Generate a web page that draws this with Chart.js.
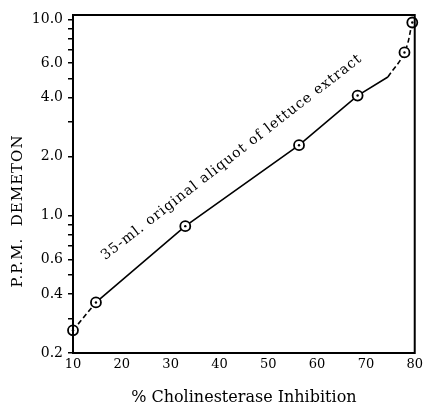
<!DOCTYPE html>
<html>
<head>
<meta charset="utf-8">
<script src="https://cdn.jsdelivr.net/npm/chart.js@4/dist/chart.umd.min.js"></script>
<style>
  html, body { margin: 0; padding: 0; background: #fff; }
  #wrap { width: 427px; height: 408px; }
</style>
</head>
<body>
<div id="wrap"><canvas id="chart" width="427" height="408"></canvas></div>
<script>
// measured points: % inhibition vs p.p.m. demeton
const inhibition = [10, 14.7, 33, 56.3, 68.3, 77.9, 79.5];
const ppm = [0.261, 0.362, 0.886, 2.29, 4.1, 6.8, 9.66];

// drawn curve, split into its dashed and solid parts
const lowDashX = [10, 14.7];
const lowDashY = [0.261, 0.362];
const solidX = [14.7, 33, 56.3, 68.3, 74.5];
const solidY = [0.362, 0.886, 2.29, 4.1, 5.1];
const highDashX = [74.5, 77.9, 79.5];
const highDashY = [5.1, 6.8, 9.66];

// axis ticks
const xTicks = [10, 20, 30, 40, 50, 60, 70, 80];
const yTicks = [0.2, 0.3, 0.4, 0.5, 0.6, 0.7, 0.8, 0.9, 1, 2, 3, 4, 5, 6, 7, 8, 9, 10];
const yLabels = { 0.2: '0.2', 0.4: '0.4', 0.6: '0.6', 1: '1.0', 2: '2.0', 4: '4.0', 6: '6.0', 10: '10.0' };

const note = '35-ml. original aliquot of lettuce extract';
const noteStart = { x: 16.6, y: 0.594 };
const noteEnd = { x: 69.8, y: 6.35 };

const SERIF = '"DejaVu Serif", "Liberation Serif", serif';

function pairs(xs, ys) {
  return xs.map((x, i) => ({ x: x, y: ys[i] }));
}

/*
*   Frame round the plot, the rotated curve label and the y axis title
*/
const extras = {
  id: 'extras',
  afterDraw(chart) {
    const ctx = chart.ctx;
    const a = chart.chartArea;
    const xs = chart.scales.x;
    const ys = chart.scales.y;

    ctx.save();
    ctx.strokeStyle = '#000';
    ctx.lineWidth = 2;
    ctx.strokeRect(a.left, a.top, a.right - a.left, a.bottom - a.top);

    // label along the line
    const x0 = xs.getPixelForValue(noteStart.x), y0 = ys.getPixelForValue(noteStart.y);
    const x1 = xs.getPixelForValue(noteEnd.x), y1 = ys.getPixelForValue(noteEnd.y);
    ctx.translate(x0, y0);
    ctx.rotate(Math.atan2(y1 - y0, x1 - x0));
    ctx.fillStyle = '#000';
    ctx.font = '14px ' + SERIF;
    ctx.letterSpacing = '1px';
    ctx.textBaseline = 'alphabetic';
    ctx.textAlign = 'left';
    ctx.fillText(note, 0, 0);
    ctx.restore();

    // y axis title
    ctx.save();
    ctx.translate(18, 211);
    ctx.rotate(-Math.PI / 2);
    ctx.fillStyle = '#000';
    ctx.font = '15px ' + SERIF;
    ctx.letterSpacing = '1px';
    ctx.textAlign = 'center';
    ctx.textBaseline = 'middle';
    ctx.fillText('P.P.M.  DEMETON', 0, 0);
    ctx.restore();
  }
};

const lineBase = {
  borderColor: '#000',
  borderWidth: 1.6,
  pointRadius: 0,
  fill: false,
  order: 2
};

new Chart(document.getElementById('chart'), {
  type: 'scatter',
  data: {
    datasets: [
      Object.assign({}, lineBase, { data: pairs(lowDashX, lowDashY), showLine: true, borderDash: [5, 3] }),
      Object.assign({}, lineBase, { data: pairs(solidX, solidY), showLine: true }),
      Object.assign({}, lineBase, { data: pairs(highDashX, highDashY), showLine: true, borderDash: [5, 3], tension: 0.4 }),
      {
        data: pairs(inhibition, ppm),
        pointRadius: 5,
        pointBorderWidth: 1.8,
        pointBorderColor: '#000',
        pointBackgroundColor: '#fff',
        showLine: false,
        order: 1
      },
      {
        data: pairs(inhibition, ppm),
        pointRadius: 1.2,
        pointBorderWidth: 0,
        pointBackgroundColor: '#000',
        showLine: false,
        order: 0
      }
    ]
  },
  options: {
    responsive: false,
    animation: false,
    clip: false,
    layout: { padding: { left: 0, right: 6, top: 15, bottom: 0 } },
    plugins: {
      legend: { display: false },
      tooltip: { enabled: false }
    },
    scales: {
      x: {
        type: 'linear',
        min: 10,
        max: 80,
        afterBuildTicks: (scale) => { scale.ticks = xTicks.map(v => ({ value: v })); },
        afterFit: (scale) => { scale.height = 55; },
        grid: { display: false, drawTicks: false },
        border: { display: true, color: '#000', width: 2 },
        ticks: {
          color: '#000',
          font: { family: SERIF, size: 13 },
          padding: 4,
          maxRotation: 0,
          autoSkip: false
        },
        title: {
          display: true,
          text: '% Cholinesterase Inhibition',
          color: '#000',
          font: { family: SERIF, size: 16 },
          padding: { top: 0, bottom: 1 }
        }
      },
      y: {
        type: 'logarithmic',
        min: 0.2,
        max: 10.55,
        afterBuildTicks: (scale) => { scale.ticks = yTicks.map(v => ({ value: v })); },
        afterFit: (scale) => { scale.width = 73; },
        grid: {
          drawOnChartArea: false,
          drawTicks: true,
          tickLength: 5,
          color: '#000',
          lineWidth: 1.5
        },
        border: { display: true, color: '#000', width: 2 },
        ticks: {
          color: '#000',
          font: { family: SERIF, size: 14 },
          padding: 5,
          autoSkip: false,
          callback: (v) => yLabels[v] || ''
        }
      }
    }
  },
  plugins: [extras]
});
</script>
</body>
</html>
